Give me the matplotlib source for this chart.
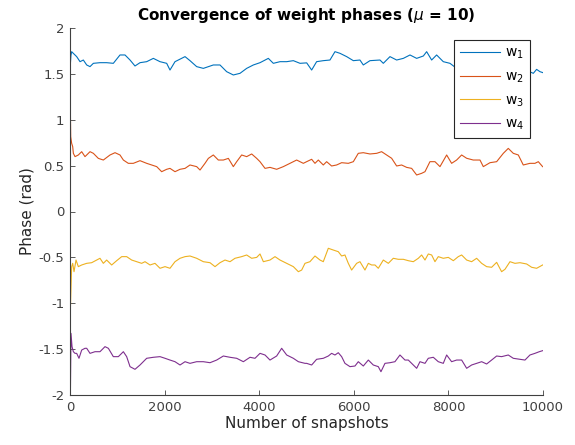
import matplotlib
matplotlib.use("Agg")
import matplotlib.pyplot as plt

# Snapshot index and phase (rad) for each weight
t_w1 = [0, 20, 35, 70, 141, 212, 282, 353, 423, 494, 634, 775, 916, 1057, 1163, 1269,
        1374, 1480, 1621, 1762, 1903, 2044, 2114, 2220, 2432, 2537, 2678, 2819, 3030,
        3171, 3312, 3453, 3594, 3735, 3876, 4017, 4193, 4299, 4440, 4581, 4722, 4863,
        5004, 5109, 5214, 5355, 5496, 5602, 5708, 5849, 5990, 6130, 6201, 6342, 6553,
        6624, 6765, 6906, 7047, 7188, 7329, 7470, 7540, 7646, 7751, 7892, 8033, 8174,
        8400, 8800, 9200, 9600, 9795, 9865, 9936, 10000]
w1 = [1.55, 1.70, 1.742, 1.724, 1.688, 1.633, 1.651, 1.597, 1.579, 1.615, 1.622, 1.622,
      1.615, 1.706, 1.706, 1.651, 1.586, 1.622, 1.633, 1.669, 1.633, 1.615, 1.542, 1.633,
      1.688, 1.644, 1.579, 1.560, 1.597, 1.597, 1.524, 1.488, 1.506, 1.560, 1.597, 1.622,
      1.669, 1.615, 1.633, 1.633, 1.644, 1.615, 1.620, 1.542, 1.633, 1.644, 1.651, 1.742,
      1.724, 1.688, 1.644, 1.651, 1.597, 1.644, 1.651, 1.615, 1.688, 1.651, 1.669, 1.706,
      1.669, 1.695, 1.742, 1.651, 1.706, 1.633, 1.615, 1.560, 1.53, 1.55, 1.57, 1.55,
      1.506, 1.549, 1.524, 1.513]

t_w2 = [0, 15, 35, 57, 71, 106, 176, 247, 317, 353, 423, 494, 599, 705, 846, 952, 1057,
        1128, 1233, 1339, 1480, 1621, 1727, 1833, 1938, 2044, 2114, 2220, 2326, 2432,
        2537, 2678, 2749, 2854, 2925, 3030, 3136, 3242, 3348, 3453, 3524, 3629, 3735,
        3841, 3947, 4017, 4123, 4228, 4369, 4510, 4651, 4792, 4933, 5003, 5109, 5179,
        5250, 5355, 5426, 5531, 5637, 5743, 5884, 5990, 6095, 6201, 6342, 6483, 6588,
        6694, 6800, 6906, 7011, 7117, 7223, 7329, 7434, 7505, 7610, 7716, 7822, 7963,
        8068, 8174, 8280, 8386, 8526, 8668, 8738, 8879, 9020, 9161, 9266, 9372, 9478,
        9583, 9724, 9830, 9901, 9992]
w2 = [1.40, 0.816, 0.743, 0.707, 0.634, 0.598, 0.616, 0.652, 0.598, 0.616, 0.652, 0.634,
      0.579, 0.561, 0.616, 0.641, 0.616, 0.561, 0.525, 0.525, 0.554, 0.525, 0.507, 0.489,
      0.434, 0.460, 0.470, 0.434, 0.460, 0.470, 0.507, 0.489, 0.452, 0.525, 0.579, 0.616,
      0.561, 0.561, 0.579, 0.489, 0.543, 0.616, 0.598, 0.627, 0.579, 0.543, 0.470, 0.481,
      0.460, 0.489, 0.525, 0.561,
      0.525, 0.543, 0.569, 0.525, 0.561, 0.507, 0.543, 0.496, 0.507, 0.532, 0.525, 0.543,
      0.634, 0.641, 0.627, 0.634, 0.652, 0.616, 0.580, 0.496, 0.507, 0.481, 0.470, 0.398,
      0.416, 0.434, 0.543, 0.543, 0.489, 0.616, 0.525, 0.561, 0.616, 0.580, 0.561, 0.561,
      0.489, 0.532, 0.543, 0.634, 0.688, 0.634, 0.616, 0.507, 0.525, 0.525, 0.543, 0.489]

t_w3 = [0, 35, 57, 85, 127, 176, 247, 353, 458, 564, 634, 705, 775, 881, 987, 1093, 1198,
        1304, 1410, 1515, 1586, 1692, 1797, 1903, 2009, 2114, 2220, 2326, 2432, 2537,
        2678, 2819, 2960, 3066, 3171, 3277, 3383, 3488, 3629, 3735, 3841, 3947, 4017,
        4088, 4228, 4334, 4440, 4581, 4722, 4828, 4898, 4968, 5073, 5179, 5285, 5355,
        5461, 5567, 5672, 5743, 5813, 5884, 5954, 6060, 6130, 6236, 6307, 6377, 6448,
        6518, 6624, 6730, 6835, 6941, 7047, 7152, 7258, 7364, 7434, 7505, 7575, 7646,
        7716, 7786, 7892, 7998, 8104, 8209, 8280, 8386, 8491, 8597, 8703, 8808, 8914,
        9020, 9125, 9196, 9302, 9407, 9513, 9654, 9760, 9865, 9992]
w3 = [-1.20, -0.601, -0.565, -0.656, -0.529, -0.601, -0.583, -0.565, -0.558, -0.529,
      -0.510, -0.565, -0.529, -0.583, -0.536, -0.492, -0.492, -0.529, -0.547, -0.565,
      -0.547, -0.583, -0.565, -0.619, -0.601, -0.619, -0.547, -0.510, -0.492, -0.485,
      -0.510, -0.547, -0.558, -0.601, -0.558, -0.529, -0.547, -0.510, -0.492, -0.474,
      -0.510, -0.500, -0.463, -0.547, -0.529, -0.492, -0.529, -0.565, -0.601, -0.656,
      -0.638, -0.565, -0.547, -0.485, -0.529, -0.547, -0.401, -0.420, -0.438, -0.485,
      -0.474, -0.565, -0.638, -0.565, -0.547, -0.638, -0.565, -0.583, -0.583, -0.619,
      -0.529, -0.565, -0.510, -0.521, -0.521, -0.536, -0.547, -0.510, -0.474, -0.529,
      -0.463, -0.474, -0.547, -0.492, -0.510, -0.500, -0.536, -0.492, -0.474, -0.529,
      -0.547, -0.510, -0.565, -0.601, -0.608, -0.554, -0.656, -0.630, -0.547, -0.565,
      -0.558, -0.572, -0.608, -0.619, -0.583]

t_w4 = [0, 8, 21, 43, 71, 106, 141, 190, 247, 317, 353, 423, 529, 634, 740, 811, 916,
        1022, 1128, 1198, 1269, 1374, 1480, 1621, 1762, 1903, 2009, 2114, 2220, 2326,
        2432, 2537, 2678, 2819, 2960, 3101, 3242, 3383, 3524, 3665, 3806, 3911, 4017,
        4123, 4228, 4369, 4475, 4581, 4722, 4828, 4968, 5003, 5109, 5214, 5355, 5461,
        5531, 5602, 5672, 5743, 5813, 5919, 6025, 6095, 6201, 6307, 6412, 6518, 6574,
        6659, 6765, 6870, 6976, 7082, 7152, 7258, 7329, 7399, 7505, 7575, 7681, 7786,
        7892, 7963, 8068, 8174, 8280, 8386, 8491, 8597, 8703, 8808, 8914, 9020, 9125,
        9266, 9372, 9513, 9619, 9724, 9830, 9922, 9992]
w4 = [2.00, -2.00, -1.328, -1.473, -1.528, -1.546, -1.546, -1.600, -1.510, -1.491,
      -1.491, -1.546, -1.528, -1.528, -1.473, -1.491, -1.582, -1.582, -1.528, -1.582,
      -1.691, -1.720, -1.673, -1.600, -1.589, -1.582, -1.600, -1.619, -1.637, -1.673,
      -1.637, -1.655, -1.637, -1.637, -1.648, -1.619, -1.575, -1.589, -1.600, -1.637,
      -1.589, -1.600, -1.546, -1.564, -1.619, -1.575, -1.491, -1.564, -1.600, -1.637,
      -1.655, -1.655, -1.673, -1.611, -1.600, -1.575, -1.546, -1.564, -1.539, -1.582,
      -1.655, -1.691, -1.684, -1.637, -1.684, -1.619, -1.673, -1.691, -1.746, -1.655,
      -1.648, -1.637, -1.564, -1.619, -1.619, -1.673, -1.709, -1.637, -1.655, -1.600,
      -1.589, -1.637, -1.655, -1.564, -1.637, -1.619, -1.619, -1.709, -1.673, -1.655,
      -1.637, -1.662, -1.619, -1.575, -1.582, -1.564, -1.600, -1.611, -1.619, -1.564,
      -1.546, -1.528, -1.517]

series = [(t_w1, w1, "w$_1$", "#0072BD"),
          (t_w2, w2, "w$_2$", "#D95319"),
          (t_w3, w3, "w$_3$", "#EDB120"),
          (t_w4, w4, "w$_4$", "#7E2F8E")]

x_ticks = [0, 2000, 4000, 6000, 8000, 10000]
y_ticks = [-2, -1.5, -1, -0.5, 0, 0.5, 1, 1.5, 2]
y_tick_labels = ["-2", "-1.5", "-1", "-0.5", "0", "0.5", "1", "1.5", "2"]

plt.rcParams["font.family"] = ["DejaVu Sans"]

fig = plt.figure(figsize=(5.75, 4.45), dpi=100)
ax = fig.add_axes([70 / 575, 50 / 445, 473 / 575, 367 / 445])

for t, w, label, color in series:
    ax.plot(t, w, color=color, linewidth=0.8, label=label)

ax.set_xlim(0, 10000)
ax.set_ylim(-2, 2)
ax.set_xticks(x_ticks)
ax.set_xticklabels([str(v) for v in x_ticks])
ax.set_yticks(y_ticks)
ax.set_yticklabels(y_tick_labels)

for side in ("top", "right"):
    ax.spines[side].set_visible(False)
for side in ("left", "bottom"):
    ax.spines[side].set_color("#404040")
    ax.spines[side].set_linewidth(0.8)
ax.tick_params(direction="in", length=3.5, width=0.6, colors="#404040",
               labelsize=9.5, pad=4)

ax.set_xlabel("Number of snapshots", fontsize=11, color="#262626", labelpad=2)
ax.set_ylabel("Phase (rad)", fontsize=11, color="#262626", labelpad=3)
ax.set_title("Convergence of weight phases ($\\mu$ = 10)", fontsize=11,
             fontweight="bold", pad=6)

leg = ax.legend(loc="upper right", bbox_to_anchor=(0.9725, 0.967), fontsize=10,
                frameon=True, fancybox=False, handlelength=2.9, handletextpad=0.4,
                labelspacing=0.6, borderpad=0.4, borderaxespad=0)
leg.get_frame().set_edgecolor("#262626")
leg.get_frame().set_linewidth(0.8)
leg.get_frame().set_alpha(1)

fig.savefig("out.png", dpi=100)
